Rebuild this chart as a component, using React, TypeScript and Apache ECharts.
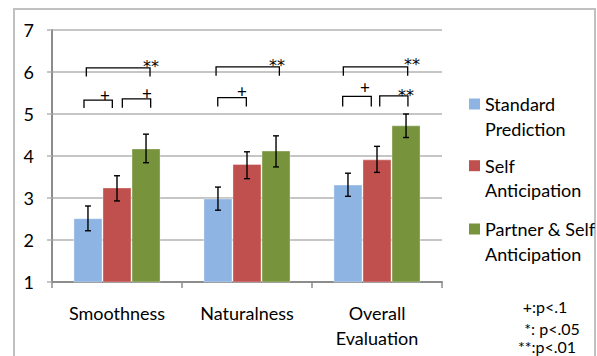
import React, { useEffect, useRef } from "react";
import * as echarts from "echarts";

const categories = ["Smoothness", "Naturalness", "Overall\nEvaluation"];
const seriesNames = ["Standard Prediction", "Self Anticipation", "Partner & Self Anticipation"];
const legendLines = [["Standard", "Prediction"], ["Self", "Anticipation"], ["Partner & Self", "Anticipation"]];
const colors = ["#8DB4E2", "#C0504D", "#77933C"];
const standardPrediction = [2.52, 2.99, 3.32];
const selfAnticipation = [3.25, 3.81, 3.92];
const partnerSelfAnticipation = [4.18, 4.13, 4.73];
const errLow = [
  [2.22, 2.71, 3.04],
  [2.93, 3.46, 3.61],
  [3.84, 3.74, 4.44],
];
const errHigh = [
  [2.81, 3.26, 3.59],
  [3.53, 4.10, 4.23],
  [4.52, 4.48, 5.0],
];
// brackets: [category, fromFrac, toFrac, topValue, legValue]
const brackets = [
  [0, -0.236, 0.254, 6.1, 5.89],
  [0, -0.254, -0.036, 5.33, 5.14],
  [0, 0.041, 0.259, 5.36, 5.15],
  [1, -0.238, 0.249, 6.12, 5.91],
  [1, -0.225, -0.005, 5.39, 5.18],
  [2, -0.259, 0.236, 6.12, 5.91],
  [2, -0.264, -0.044, 5.42, 5.18],
  [2, 0.021, 0.238, 5.43, 5.18],
];
const bracketLabels = ["**", "+", "+", "**", "+", "**", "+", "**"];
// label offsets (px) from the bracket's right end / above its top line
const bracketLabelDx = [0.7, -7.3, -3.7, -2, -4.3, 4.3, -6.3, -1.8];
const bracketLabelDy = [5.3, 5, 5.7, 5.3, 6.3, 6.3, 9.7, 4.8];
const yTicks = [1, 7, 1];
const pLegend = ["+:p<.1", "*: p<.05", "**:p<.01"];

const FONT = "Lato";
const GAP = 0.33;

export default function App() {
  const ref = useRef<HTMLDivElement>(null);
  useEffect(() => {
    const chart = echarts.init(ref.current!, null, { renderer: "svg" });
    const values = [standardPrediction, selfAnticipation, partnerSelfAnticipation];
    const errData: number[][] = [];
    for (let s = 0; s < 3; s++) for (let c = 0; c < 3; c++) errData.push([c, errLow[s][c], errHigh[s][c], s]);

    const baseGraphics: any[] = [
      {
        type: "rect",
        shape: { x: 14, y: 9, width: 581, height: 400 },
        style: { fill: "none", stroke: "#c0c0c0", lineWidth: 2 },
        z: -1,
      },
    ];
    const legendY = [104, 165.7, 229];
    for (let i = 0; i < 3; i++) {
      baseGraphics.push({
        type: "rect",
        shape: { x: 469, y: legendY[i] - 5.5, width: 11, height: 11 },
        style: { fill: colors[i] },
      });
      legendLines[i].forEach((t, j) => {
        baseGraphics.push({
          type: "text",
          x: 485,
          y: legendY[i] + j * 24.5,
          style: { text: t, font: `18px ${FONT}`, fill: "#000", textVerticalAlign: "middle", textAlign: "left" },
        });
      });
    }
    const pX = [545, 552, 547];
    const pY = [306.7, 328.5, 346.5];
    pLegend.forEach((t, i) =>
      baseGraphics.push({
        type: "text",
        x: pX[i],
        y: pY[i],
        style: { text: t, font: `16px ${FONT}`, fill: "#000", textAlign: "center", textVerticalAlign: "middle" },
      })
    );

    chart.setOption({
      animation: false,
      backgroundColor: "#fff",
      textStyle: { fontFamily: FONT },
      grid: { left: 52, right: 155, top: 30, bottom: 74, containLabel: false },
      xAxis: {
        type: "category",
        data: categories,
        axisLine: { lineStyle: { color: "#8c8c8c", width: 2 } },
        axisTick: { show: true, length: 6, interval: 0, lineStyle: { color: "#8c8c8c", width: 1.5 } },
        axisLabel: { interval: 0, fontSize: 18, lineHeight: 24.5, margin: 19, color: "#000", fontFamily: FONT },
      },
      yAxis: {
        type: "value",
        min: yTicks[0],
        max: yTicks[1],
        interval: yTicks[2],
        axisLine: { show: true, lineStyle: { color: "#8c8c8c", width: 2 } },
        axisTick: { show: true, length: 5, lineStyle: { color: "#b3b3b3", width: 1.5 } },
        axisLabel: { fontSize: 18, margin: 18, color: "#000", fontFamily: FONT },
        splitLine: { lineStyle: { color: "#b3b3b3", width: 1.5 } },
      },
      graphic: baseGraphics,
      series: [
        ...values.map((v, i) => ({
          type: "bar",
          name: seriesNames[i],
          data: v,
          barGap: "0%",
          barCategoryGap: GAP * 100 + "%",
          itemStyle: { color: colors[i], borderColor: "rgba(255,255,255,0.35)", borderWidth: 1 },
        })),
        {
          type: "custom",
          data: errData,
          encode: { x: 0, y: [1, 2] },
          z: 10,
          itemStyle: { color: "#000" },
          renderItem: (params: any, api: any) => {
            const c = api.value(0);
            const s = api.value(3);
            const band = api.size([1, 0])[0];
            const bw = (band * (1 - GAP)) / 3;
            const lo = api.coord([c, api.value(1)]);
            const hi = api.coord([c, api.value(2)]);
            const x = lo[0] + (s - 1) * bw;
            const cap = 3;
            const st = { stroke: "#000", lineWidth: 1.4 };
            return {
              type: "group",
              children: [
                { type: "line", shape: { x1: x, y1: lo[1], x2: x, y2: hi[1] }, style: st },
                { type: "line", shape: { x1: x - cap, y1: lo[1], x2: x + cap, y2: lo[1] }, style: st },
                { type: "line", shape: { x1: x - cap, y1: hi[1], x2: x + cap, y2: hi[1] }, style: st },
              ],
            };
          },
        },
        {
          type: "custom",
          data: brackets,
          encode: { x: 0, y: 3 },
          z: 10,
          itemStyle: { color: "#000" },
          renderItem: (params: any, api: any) => {
            const c = api.value(0);
            const band = api.size([1, 0])[0];
            const top = api.coord([c, api.value(3)]);
            const leg = api.coord([c, api.value(4)]);
            const x0 = top[0] + api.value(1) * band;
            const x1 = top[0] + api.value(2) * band;
            return {
              type: "polyline",
              shape: { points: [[x0, leg[1]], [x0, top[1]], [x1, top[1]], [x1, leg[1]]] },
              style: { stroke: "#000", lineWidth: 1.3, fill: "none" },
            };
          },
        },
      ],
    });

    // significance labels, placed through the chart's own coordinate conversion
    const p0 = chart.convertToPixel({ gridIndex: 0 }, [0, 1]) as number[];
    const p1 = chart.convertToPixel({ gridIndex: 0 }, [1, 1]) as number[];
    const band = p1[0] - p0[0];
    const labelGraphics = brackets.map((b, i) => {
      const top = chart.convertToPixel({ gridIndex: 0 }, [b[0], b[3]]) as number[];
      const x1 = top[0] + b[2] * band;
      const isStar = bracketLabels[i] === "**";
      const cy = top[1] - bracketLabelDy[i];
      return {
        type: "text",
        x: Math.round(x1 + bracketLabelDx[i]),
        y: Math.round(isStar ? cy + 3.5 : cy),
        z: 20,
        style: {
          text: bracketLabels[i],
          font: isStar ? "16px 'DejaVu Sans'" : `17px ${FONT}`,
          fill: "#000",
          textAlign: "center",
          textVerticalAlign: "middle",
        },
      };
    });
    chart.setOption({ graphic: [...baseGraphics, ...labelGraphics] });
    return () => chart.dispose();
  }, []);
  return <div ref={ref} style={{ position: "fixed", left: 0, top: 0, width: 597, height: 356 }} />;
}
